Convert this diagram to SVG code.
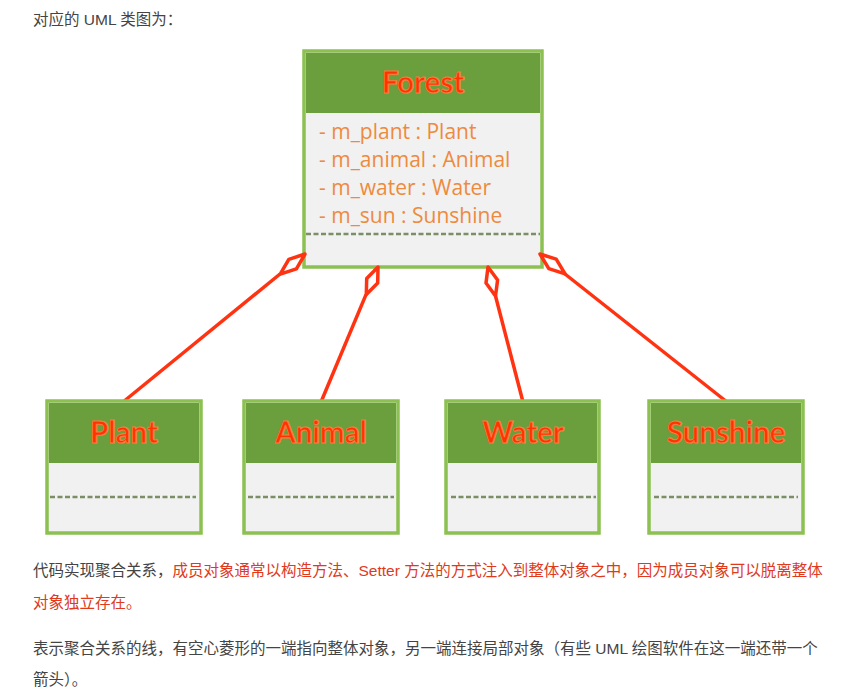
<svg xmlns="http://www.w3.org/2000/svg" width="847" height="695" viewBox="0 0 847 695">
<style>
.box{fill:#f1f1f1;stroke:#8cc152;stroke-width:3.5}
.hdr{fill:#6b9e3c}
.dash{stroke:#7a8f66;stroke-width:2.5;stroke-dasharray:5 2.5}
.title{font-family:Lato,"Open Sans",sans-serif;font-weight:bold;font-size:29.5px;fill:#ff3300;stroke:#ff7a40;stroke-width:1.1;text-anchor:middle}
.attr{font-family:"Open Sans",Lato,sans-serif;font-size:21px;fill:#ee8a3e}
.con{stroke:#ff3311;stroke-width:3.5;fill:none;stroke-linejoin:round}
.dia{fill:#ffffff;stroke:#ff3311;stroke-width:3.5;stroke-linejoin:round}
.txt{font-family:"Liberation Sans","Noto Sans CJK SC",sans-serif;font-size:15.5px;fill:#444}
.red{fill:#e0391c}
</style>
<rect width="847" height="695" fill="#ffffff"/>
<text class="txt" x="33" y="25">对应的 UML 类图为：</text>

<g id="connectors">
<line class="con" x1="280" y1="274" x2="123" y2="402"/>
<line class="con" x1="366" y1="294.6" x2="321" y2="402"/>
<line class="con" x1="495.5" y1="296" x2="523" y2="402"/>
<line class="con" x1="565" y1="274" x2="727" y2="402"/>
</g>

<g id="Forest">
<rect class="box" x="304" y="51" width="238" height="216"/>
<rect class="hdr" x="306" y="53" width="234" height="60"/>
<text class="title" x="423" y="93">Forest</text>
<text class="attr" x="319" y="139">- m_plant : Plant</text>
<text class="attr" x="319" y="167">- m_animal : Animal</text>
<text class="attr" x="319" y="195">- m_water : Water</text>
<text class="attr" x="319" y="223">- m_sun : Sunshine</text>
<line class="dash" x1="306" y1="234" x2="540" y2="234"/>
</g>

<g id="diamonds">
<polygon class="dia" points="305,254 296.4,268.8 280.2,274.2 288.8,259.4"/>
<polygon class="dia" points="378,267 377.7,283.1 366.3,294.6 366.7,278.5"/>
<polygon class="dia" points="488,267 497.6,280 495.5,296 486,283"/>
<polygon class="dia" points="540,254 556.2,259.2 565.1,273.9 548.8,268.6"/>
</g>

<g id="Plant">
<rect class="box" x="47" y="401" width="154" height="132"/>
<rect class="hdr" x="49" y="403" width="150" height="60"/>
<text class="title" x="124" y="443">Plant</text>
<line class="dash" x1="50" y1="497" x2="196" y2="497"/>
</g>
<g id="Animal">
<rect class="box" x="244" y="401" width="154" height="132"/>
<rect class="hdr" x="246" y="403" width="150" height="60"/>
<text class="title" x="321" y="443">Animal</text>
<line class="dash" x1="248" y1="497" x2="394" y2="497"/>
</g>
<g id="Water">
<rect class="box" x="446" y="401" width="153" height="132"/>
<rect class="hdr" x="448" y="403" width="149" height="60"/>
<text class="title" x="523" y="443">Water</text>
<line class="dash" x1="451" y1="497" x2="596" y2="497"/>
</g>
<g id="Sunshine">
<rect class="box" x="649" y="401" width="154" height="132"/>
<rect class="hdr" x="651" y="403" width="150" height="60"/>
<text class="title" x="726" y="443">Sunshine</text>
<line class="dash" x1="654" y1="497" x2="798" y2="497"/>
</g>

<text class="txt" x="33" y="576">代码实现聚合关系，<tspan class="red">成员对象通常以构造方法、Setter 方法的方式注入到整体对象之中，因为成员对象可以脱离整体</tspan></text>
<text class="txt red" x="33" y="608">对象独立存在。</text>
<text class="txt" x="33" y="654">表示聚合关系的线，有空心菱形的一端指向整体对象，另一端连接局部对象（有些 UML 绘图软件在这一端还带一个</text>
<text class="txt" x="33" y="685">箭头）。</text>
</svg>
